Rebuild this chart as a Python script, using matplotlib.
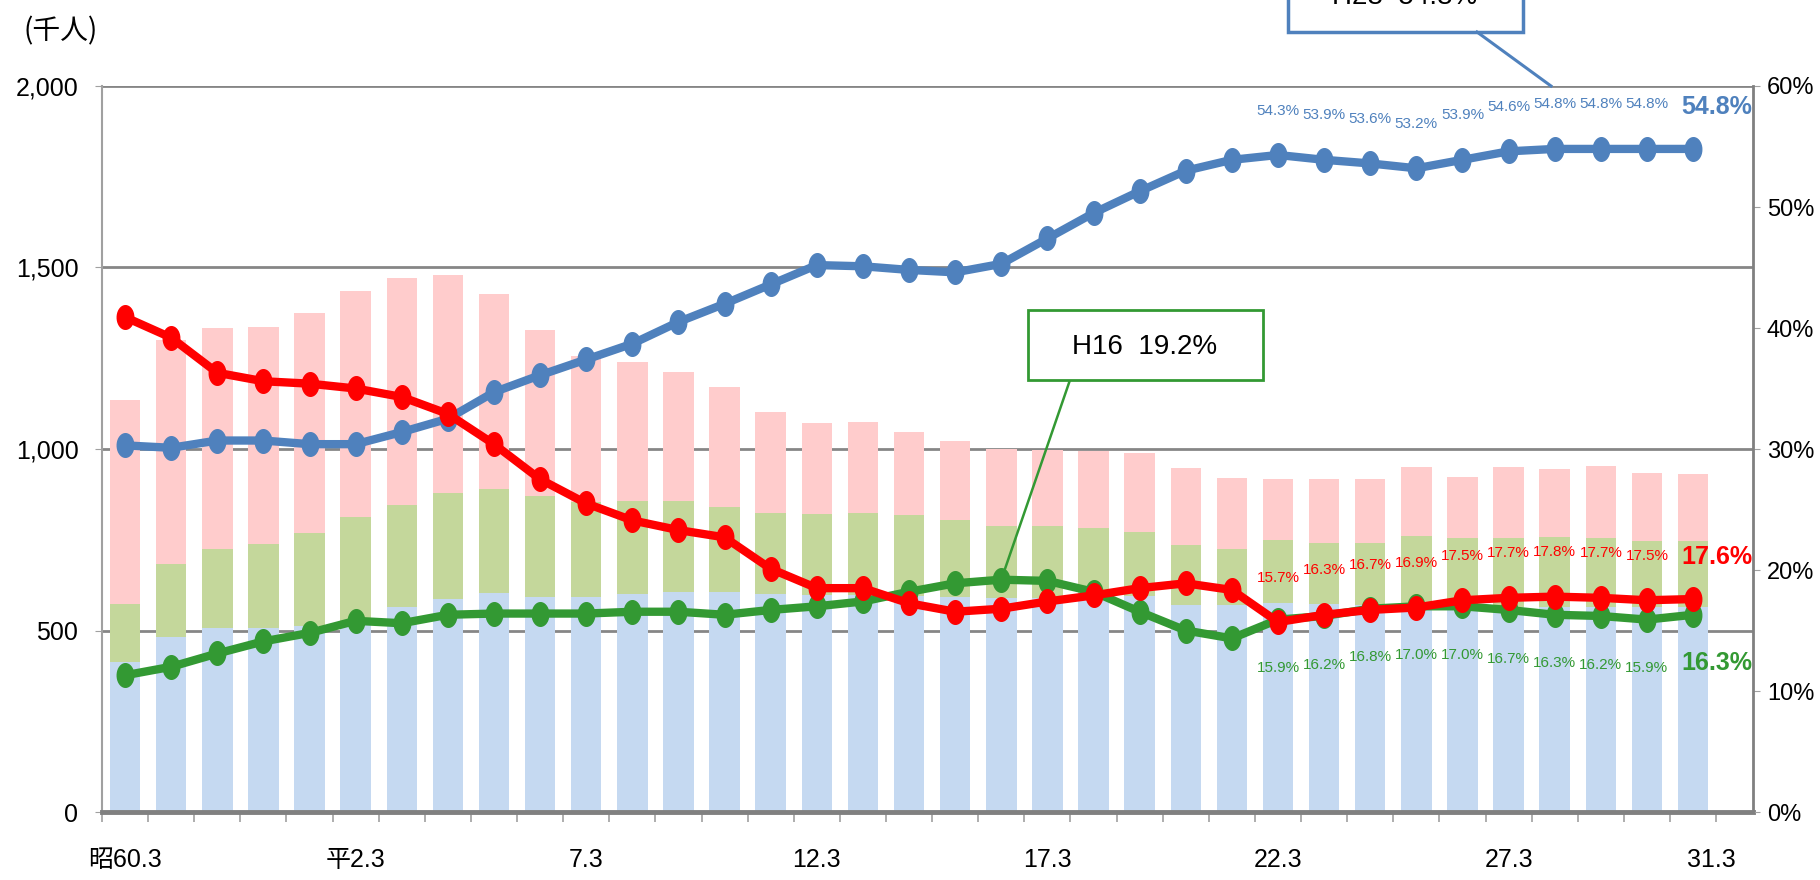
import numpy as np
import matplotlib
matplotlib.use('Agg')
import matplotlib.pyplot as plt
from matplotlib import font_manager
from matplotlib.patches import Rectangle
from matplotlib.lines import Line2D

# 昭60.3 .. 平31.3 (35 years)
tick_pos = [0, 5, 10, 15, 20, 25, 30, 34.4]
tick_labels = ['昭60.3', '平2.3', '7.3', '12.3', '17.3', '22.3', '27.3', '31.3']

# bars (千人), cumulative tops of each stack
blue_top = [414, 483, 506, 508, 512, 520, 566, 586, 602, 593, 593, 600, 605, 605, 600, 598, 598, 595,
            592, 590, 590, 590, 595, 570, 570, 577, 572, 571, 566, 565, 565, 565, 565, 565, 565]
green_top = [572, 683, 725, 739, 768, 812, 847, 878, 891, 870, 855, 858, 856, 841, 824, 821, 824, 818,
             805, 789, 789, 782, 772, 735, 725, 748, 740, 740, 761, 755, 756, 757, 756, 747, 747]
total = [1135, 1300, 1333, 1337, 1376, 1436, 1471, 1480, 1427, 1328, 1255, 1240, 1213, 1172, 1103, 1071,
         1074, 1046, 1021, 1000, 998, 995, 989, 947, 921, 917, 916, 916, 950, 924, 950, 945, 953, 935, 931]

# lines (%)
blue_rate = [30.3, 30.1, 30.7, 30.7, 30.4, 30.4, 31.4, 32.5, 34.7, 36.1, 37.4, 38.7, 40.5, 42.0, 43.6, 45.2,
             45.1, 44.8, 44.6, 45.3, 47.4, 49.5, 51.3, 53.0, 53.9, 54.3, 53.9, 53.6, 53.2, 53.9, 54.6,
             54.8, 54.8, 54.8, 54.8]
red_rate = [40.9, 39.2, 36.3, 35.6, 35.4, 35.0, 34.3, 32.9, 30.4, 27.5, 25.5, 24.1, 23.3, 22.7, 20.1, 18.5,
            18.5, 17.25, 16.55, 16.8, 17.4, 17.9, 18.5, 18.9, 18.35, 15.7, 16.3, 16.7, 16.9, 17.5, 17.7,
            17.8, 17.7, 17.5, 17.6]
green_rate = [11.3, 12.0, 13.1, 14.1, 14.8, 15.8, 15.6, 16.3, 16.4, 16.4, 16.4, 16.55, 16.55, 16.3, 16.7,
              17.0, 17.4, 18.2, 18.9, 19.2, 19.1, 18.2, 16.55, 15.0, 14.35, 15.9, 16.2, 16.8, 17.0, 17.0,
              16.7, 16.3, 16.2, 15.9, 16.3]

names = {f.name for f in font_manager.fontManager.ttflist}
narrow = 'Liberation Sans Narrow' if 'Liberation Sans Narrow' in names else 'Liberation Sans'
fam = [narrow, 'Noto Sans CJK JP', 'DejaVu Sans']
plt.rcParams['font.family'] = fam

c_blue_bar, c_green_bar, c_pink_bar = '#C5D9F1', '#C4D79B', '#FFCCCC'
c_blue, c_red, c_green = '#4F81BD', '#FF0000', '#339933'
grid_c = '#868686'

W, H = 1820, 880
def fx(px):
    return px / W
def fy(py):
    return 1 - py / H

fig = plt.figure(figsize=(W / 100, H / 100), dpi=100)
ax = fig.add_axes([fx(102), fy(812), (1753 - 102) / W, (812 - 86) / H])

x = np.arange(len(total))
ax.bar(x, total, width=0.66, color=c_pink_bar, zorder=2)
ax.bar(x, green_top, width=0.66, color=c_green_bar, zorder=2)
ax.bar(x, blue_top, width=0.66, color=c_blue_bar, zorder=2)

ax.set_xlim(-0.5, 35.3)
ax.set_ylim(0, 2000)
ax.set_yticks([0, 500, 1000, 1500, 2000], ['0', '500', '1,000', '1,500', '2,000'])
ax.yaxis.grid(True, color=grid_c, lw=2)
ax.set_axisbelow(True)
ax.tick_params(axis='y', length=5, color='#A0A0A0', pad=12, labelsize=18)
ax.set_xticks(tick_pos, tick_labels)
ax.set_xticks(np.arange(-0.5, 35, 1), minor=True)
ax.tick_params(axis='x', which='major', length=0, pad=26, labelsize=18)
ax.tick_params(axis='x', which='minor', length=7, color='#A0A0A0', width=1.2)
ax.spines['top'].set_visible(False)
ax.spines['right'].set_visible(False)
ax.spines['left'].set_color('#A0A0A0')
ax.spines['left'].set_linewidth(1.5)
ax.spines['bottom'].set_color('#808080')
ax.spines['bottom'].set_linewidth(3.5)

ax2 = ax.twinx()
ax2.set_ylim(0, 60)
ax2.set_yticks(range(0, 61, 10), [f'{v}%' for v in range(0, 61, 10)])
ax2.tick_params(axis='y', length=5, color='#A0A0A0', pad=5, labelsize=17)
for s in ['top', 'left', 'bottom']:
    ax2.spines[s].set_visible(False)
ax2.spines['right'].set_color('#808080')
ax2.spines['right'].set_linewidth(2)

t = np.linspace(0, 2 * np.pi, 40)
oval = list(zip(0.7 * np.cos(t), np.sin(t)))
for vals, col in [(green_rate, c_green), (blue_rate, c_blue), (red_rate, c_red)]:
    ax2.plot(x, vals, color=col, lw=6, marker=oval, ms=17, mec=col, mfc=col, zorder=3)

# data labels for the last ten years
for vals, col, dy in [(blue_rate, c_blue, 32), (red_rate, c_red, 32), (green_rate, c_green, -35)]:
    for i in range(25, 34):
        ax2.annotate(f'{vals[i]:.1f}%', xy=(i, vals[i]), xytext=(0, dy), textcoords='offset points',
                     ha='center', va='center', color=col, fontsize=11, zorder=5)
    ax2.annotate(f'{vals[34]:.1f}%', xy=(34, vals[34]), xytext=(17, dy - 2 if dy > 0 else dy),
                 textcoords='offset points', ha='center', va='center', color=col,
                 fontsize=18, fontweight='bold', zorder=5, annotation_clip=False)

# callouts
fig.add_artist(Rectangle((fx(1028), fy(380)), (1263 - 1028) / W, 70 / H, transform=fig.transFigure,
                         fc='white', ec=c_green, lw=2, zorder=6))
fig.text(fx(1145), fy(347), 'H16  19.2%', ha='center', va='center', fontsize=20, zorder=7)
ax2.annotate('', xy=(19, green_rate[19]), xytext=(fx(1070), fy(380)), textcoords='figure fraction',
             arrowprops=dict(arrowstyle='-', color=c_green, lw=1.8, shrinkA=0, shrinkB=0), zorder=4)

fig.add_artist(Rectangle((fx(1288), fy(32)), (1523 - 1288) / W, 70 / H, transform=fig.transFigure,
                         fc='white', ec=c_blue, lw=2.5, zorder=6))
fig.text(fx(1405), fy(-3), 'H28  54.8%', ha='center', va='center', fontsize=20, zorder=7)
fig.add_artist(Line2D([fx(1477), fx(1551)], [fy(32), fy(86)], transform=fig.transFigure,
                      color=c_blue, lw=2.2, zorder=6))

fig.text(fx(61), fy(31), '(千人)', ha='center', va='center', fontsize=20, family=['Noto Sans CJK JP'])

fig.savefig('out.png', dpi=100)
